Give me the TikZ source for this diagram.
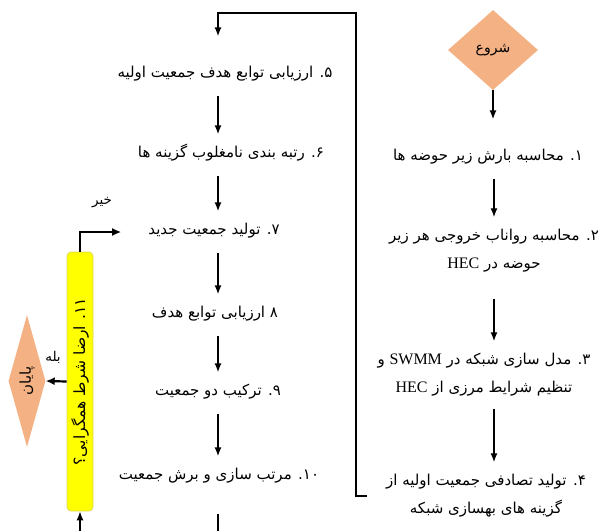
\documentclass[tikz,border=0pt]{standalone}
\usepackage{fontspec}
\usetikzlibrary{shapes.geometric,arrows.meta}
\TeXXeTstate=1
\newfontfamily\farsi[Script=Arabic]{DejaVu Sans}
\newfontfamily\latn{Liberation Serif}
\newcommand{\rl}[1]{\beginR #1\endR}
\newcommand{\lt}[1]{\beginL{\latn\fontsize{16}{28}\selectfont #1}\endL{}}
\definecolor{salmon}{RGB}{244,177,131}
\definecolor{ybox}{RGB}{255,255,0}
\definecolor{yedge}{RGB}{220,212,90}

\begin{document}
\begin{tikzpicture}[x=1pt,y=-1pt,
  proc/.style={font=\fontsize{15}{28}\selectfont\farsi, align=center,
    inner xsep=10pt, inner ysep=12pt},
  single/.style={proc, text height=9pt, text depth=4pt, inner ysep=14pt},
  lbl/.style={font=\fontsize{13.5}{15}\selectfont\farsi, inner sep=1pt},
  flow/.style={-{Latex[length=9pt,width=7pt]}, line width=1.4pt},
  plain/.style={line width=1.4pt},
  bigflow/.style={-{Latex[length=9pt,width=8pt]}, line width=2.2pt},
  terminal/.style={shape=diamond, fill=salmon, inner sep=0pt},
  condbox/.style={rectangle, rounded corners=4pt, fill=ybox, draw=yedge,
    line width=0.7pt, inner sep=0pt, font=\fontsize{15.5}{17}\selectfont\farsi}
]
\useasboundingbox (0,0) rectangle (600,531);

% column guides for the vertical connectors
\coordinate (colR) at (494,0);
\coordinate (colL) at (218,0);
\coordinate (loopR) at (356,13);
\coordinate (bot10) at (218,531);
\coordinate (bot11) at (80,531);

% start / stop
\node[terminal, minimum width=90pt, minimum height=80pt, aspect=1.125,
  font=\fontsize{14}{16}\selectfont\farsi]
  (start) at (493,50) {\rl{شروع}};
\node[terminal, rotate=90, minimum width=132pt, minimum height=37pt, aspect=3.57,
  font=\fontsize{15}{16}\selectfont\farsi]
  (stop) at (27,381) {\rl{پایان}};

% right column
\node[single] (n1) at (488,158) {\rl{۱. محاسبه بارش زیر حوضه ها}};
\node[proc] (n2) at (494,251) {\rl{۲. محاسبه رواناب خروجی هر زیر}\\ \rl{حوضه در \lt{HEC}}};
\node[proc] (n3) at (484,375) {\rl{۳. مدل سازی شبکه در \lt{SWMM} و}\\ \rl{تنظیم شرایط مرزی از \lt{HEC}}};
\node[proc] (n4) at (486,496) {\rl{۴. تولید تصادفی جمعیت اولیه از}\\ \rl{گزینه های بهسازی شبکه}};

% left column
\node[single] (n5) at (225,75) {\rl{۵. ارزیابی توابع هدف جمعیت اولیه}};
\node[single] (n6) at (231,155) {\rl{۶. رتبه بندی نامغلوب گزینه ها}};
\node[single] (n7) at (214,232) {\rl{۷. تولید جمعیت جدید}};
\node[single] (n8) at (215,315) {\rl{۸ ارزیابی توابع هدف}};
\node[single] (n9) at (218,393) {\rl{۹. ترکیب دو جمعیت}};
\node[single] (n10) at (219,477) {\rl{۱۰. مرتب سازی و برش جمعیت}};

% convergence test
\node[condbox, rotate=90, minimum width=259pt, minimum height=26pt]
  (n11) at (80,381.5) {\rl{۱۱. ارضا شرط همگرایی؟}};

% connectors, right column
\draw[flow, shorten >=18pt] (start.south) -- (start.south |- n1.north);
\draw[flow] (n1.south -| colR) -- (n2.north -| colR);
\draw[flow, shorten <=14pt] (n2.south -| colR) -- (n3.north -| colR);
\draw[flow] (n3.south -| colR) -- (n4.north -| colR);

% loop back to the top of the left column
\draw[flow, shorten <=9pt, shorten >=18pt] (n4.west) -| (loopR) -| (n5.north -| colL);

% connectors, left column
\draw[flow] (n5.south -| colL) -- (n6.north -| colL);
\draw[flow] (n6.south -| colL) -- (n7.north -| colL);
\draw[flow] (n7.south -| colL) -- (n8.north -| colL);
\draw[flow] (n8.south -| colL) -- (n9.north -| colL);
\draw[flow] (n9.south -| colL) -- (n10.north -| colL);
\draw[plain, shorten <=16pt] (n10.south -| colL) -- (bot10);
\draw[flow] (bot11) -- (n11.west);

% decision branches
\draw[bigflow, shorten >=17pt] (n11.east) |- (n7.west);
\node[lbl] (no) at (102,203) {\rl{خیر}};
\draw[bigflow] (n11.north) -- (stop.south);
\node[lbl] (yes) at (53,357) {\rl{بله}};
\end{tikzpicture}
\end{document}
